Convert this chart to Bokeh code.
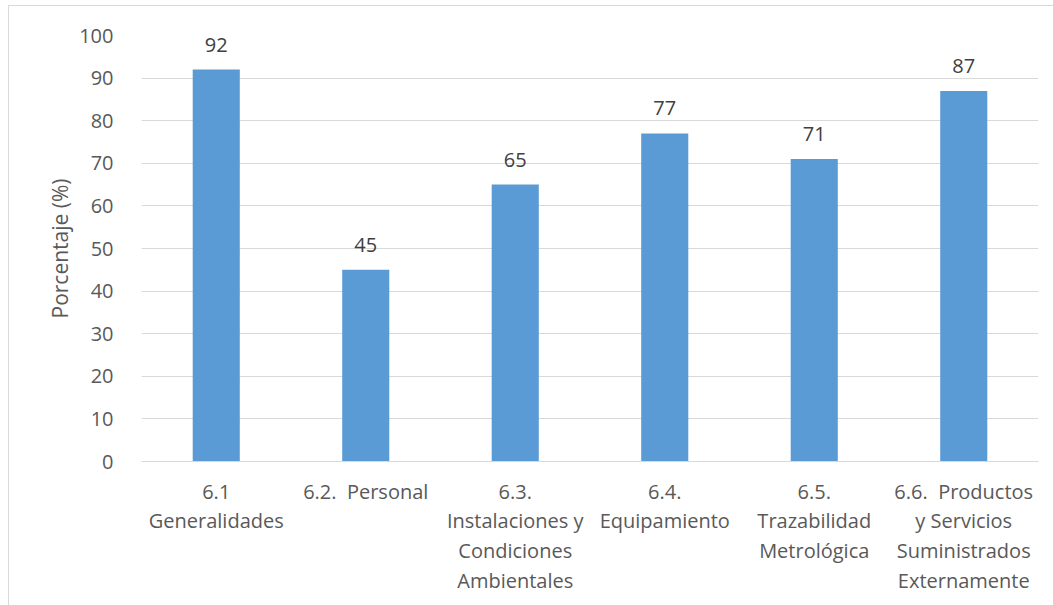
from bokeh.plotting import figure
from bokeh.models import ColumnDataSource, LabelSet, Range1d, FixedTicker
from bokeh.core.properties import value
from bokeh.embed import file_html
from bokeh.resources import INLINE

categories = ["6.1\nGeneralidades", "6.2.\u00a0 Personal", "6.3.\nInstalaciones y\nCondiciones\nAmbientales",
              "6.4.\nEquipamiento", "6.5.\nTrazabilidad\nMetrológica",
              "6.6.\u00a0 Productos\ny Servicios\nSuministrados\nExternamente"]
values = [92, 45, 65, 77, 71, 87]
y_ticks = [0, 10, 20, 30, 40, 50, 60, 70, 80, 90, 100]

FONT = "Open Sans"
TXT = "#595959"
GRID = "#D9D9D9"

src = ColumnDataSource(data=dict(cat=categories, val=values, lbl=[str(v) for v in values]))

p = figure(x_range=categories, y_range=Range1d(0, 100), width=1050, height=600,
           output_backend="svg", toolbar_location=None,
           min_border_left=132, min_border_right=21, min_border_top=29, min_border_bottom=145,
           margin=(5, 0, 0, 8))
p.styles = {"border-left": "1px solid #D9D9D9", "border-top": "1px solid #D9D9D9"}
p.outline_line_color = None
p.background_fill_color = "white"
p.border_fill_color = "white"

p.vbar(x="cat", top="val", width=0.315, source=src, fill_color="#5B9BD5", line_color=None)

labels = LabelSet(x="cat", y="val", text="lbl", source=src, text_align="center",
                  text_baseline="alphabetic", y_offset=18, text_font=value(FONT),
                  text_font_size="20px", text_color="#404040")
p.add_layout(labels)

p.xgrid.grid_line_color = None
p.ygrid.grid_line_color = GRID
p.ygrid.grid_line_width = 1
p.yaxis.ticker = FixedTicker(ticks=y_ticks)
p.yaxis.axis_line_color = None
p.yaxis.major_tick_line_color = None
p.yaxis.minor_tick_line_color = None
p.yaxis.major_label_text_font = FONT
p.yaxis.major_label_text_font_size = "20px"
p.yaxis.major_label_text_color = TXT
p.yaxis.major_label_standoff = 22
p.yaxis.axis_label = "Porcentaje (%)"
p.yaxis.axis_label_text_font = FONT
p.yaxis.axis_label_text_font_size = "21px"
p.yaxis.axis_label_text_font_style = "normal"
p.yaxis.axis_label_text_color = TXT
p.yaxis.axis_label_standoff = 2

p.xaxis.axis_line_color = GRID
p.xaxis.major_tick_line_color = None
p.xaxis.minor_tick_line_color = None
p.xaxis.major_label_text_font = FONT
p.xaxis.major_label_text_font_size = "20px"
p.xaxis.major_label_text_color = TXT
p.xaxis.major_label_standoff = 10
p.xaxis.major_label_text_line_height = 1.1

open("out.html", "w").write(file_html(p, INLINE))
